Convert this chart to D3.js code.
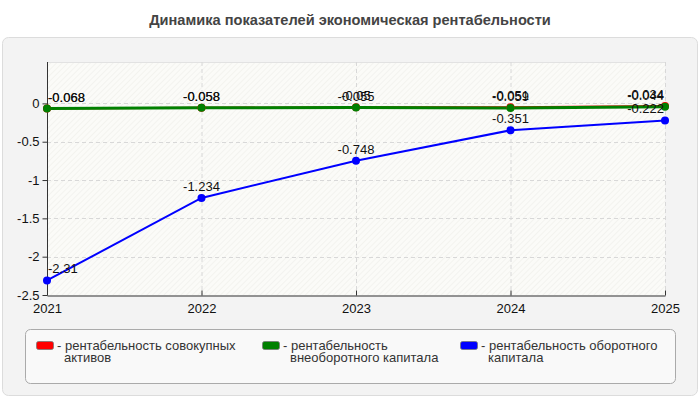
<!DOCTYPE html>
<html><head><meta charset="utf-8">
<script src="https://cdn.jsdelivr.net/npm/d3@7/dist/d3.min.js"></script>
<style>body{margin:0;background:#fff;font-family:"Liberation Sans",Arial,sans-serif}</style>
</head><body><svg id="c" width="700" height="400"></svg>
<script>
const years = ["2021","2022","2023","2024","2025"];
const seriesNames = ["рентабельность совокупных активов","рентабельность внеоборотного капитала","рентабельность оборотного капитала"];
const seriesColors = ["#ff0000","#008000","#0000ff"];
const redValues = [-0.068,-0.058,-0.05,-0.051,-0.034];
const greenValues = [-0.068,-0.058,-0.055,-0.059,-0.044];
const blueValues = [-2.31,-1.234,-0.748,-0.351,-0.222];
const yTicks = [0,-0.5,-1,-1.5,-2,-2.5];
const yTickLabels = ["0","-0.5","-1","-1.5","-2","-2.5"];
const title = "Динамика показателей экономическая рентабельности";
const legendLines = [["- рентабельность совокупных","активов"],["- рентабельность","внеоборотного капитала"],["- рентабельность оборотного","капитала"]];

const series = [redValues, greenValues, blueValues].map((v,i)=>({name:seriesNames[i],color:seriesColors[i],values:v}));

const svg = d3.select("#c");
const L=47,R=665,T=62,B=295;
svg.append("text").attr("x",350).attr("y",25).attr("text-anchor","middle")
  .attr("font-size",14.6).attr("font-weight","bold").attr("fill","#444").text(title);
svg.append("rect").attr("x",2.5).attr("y",37.5).attr("width",695).attr("height",358).attr("rx",6)
  .attr("fill","#f3f3f3").attr("stroke","#dcdcdc");

const defs = svg.append("defs");
const pat = defs.append("pattern").attr("id","hatch").attr("patternUnits","userSpaceOnUse").attr("width",4).attr("height",4)
  .attr("patternTransform","rotate(45)");
pat.append("rect").attr("width",4).attr("height",4).attr("fill","#fbfbf8");
pat.append("line").attr("x1",0).attr("y1",0).attr("x2",0).attr("y2",4).attr("stroke","#eeeeea").attr("stroke-width",1.2);

const x = d3.scalePoint().domain(years).range([L,R]);
const y = d3.scaleLinear().domain([-2.5,0.54]).range([B,T]);

svg.append("rect").attr("x",L).attr("y",T).attr("width",R-L).attr("height",B-T).attr("fill","url(#hatch)");
svg.append("line").attr("x1",L).attr("x2",R).attr("y1",T+0.5).attr("y2",T+0.5).attr("stroke","#e2e2e2");
// grid
svg.append("g").selectAll("line").data(years.slice(1)).join("line")
  .attr("x1",d=>x(d)+0.5).attr("x2",d=>x(d)+0.5).attr("y1",T).attr("y2",B)
  .attr("stroke","#d8d8d8").attr("stroke-dasharray","4,3");
svg.append("g").selectAll("line").data(yTicks.slice(0,-1)).join("line")
  .attr("x1",L).attr("x2",R).attr("y1",d=>Math.round(y(d))+0.5).attr("y2",d=>Math.round(y(d))+0.5)
  .attr("stroke","#d8d8d8").attr("stroke-dasharray","4,3");

// axes
const ya = svg.append("g").attr("transform",`translate(${L+0.5},0)`)
  .call(d3.axisLeft(y).tickValues(yTicks).tickFormat((d,i)=>yTickLabels[i]).tickSize(5).tickSizeOuter(0));
ya.select(".domain").attr("stroke","#333").attr("d",`M0,${T}V${B}`);
ya.selectAll("text").attr("font-size",13).attr("font-family","Liberation Sans, Arial, sans-serif").attr("fill","#111").attr("x",-8);
ya.selectAll("line").attr("stroke","#333");
const xa = svg.append("g").attr("transform",`translate(0,${B+0.5})`)
  .call(d3.axisBottom(x).tickSize(5).tickSizeOuter(0));
xa.select(".domain").attr("stroke","#333");
xa.selectAll("line").attr("stroke","#333").attr("y1",-5).attr("y2",0);
xa.selectAll("text").attr("font-size",13).attr("font-family","Liberation Sans, Arial, sans-serif").attr("fill","#111").attr("y",8);

const line = d3.line().x((d,i)=>x(years[i])).y(d=>y(d));
const widths=[2,3,2];
series.forEach((s,si)=>{
  svg.append("path").datum(s.values).attr("d",line).attr("fill","none").attr("stroke",s.color).attr("stroke-width",widths[si]);
});
series.forEach((s,si)=>{
  svg.append("g").selectAll("circle").data(s.values).join("circle")
    .attr("cx",(d,i)=>x(years[i])).attr("cy",d=>y(d)).attr("r",4).attr("fill",s.color);
});
series.forEach((s,si)=>{
  svg.append("g").selectAll("text").data(s.values).join("text")
    .attr("font-size",13).attr("fill","#111")
    .text(d=>String(d))
    .each(function(d,i){
      const w=this.getComputedTextLength();
      let cx=x(years[i])-w/2;
      cx=Math.max(L+1,Math.min(R-1-w,cx));
      d3.select(this).attr("x",cx).attr("y",y(d)-7);
    });
});

// legend
svg.append("rect").attr("x",25.5).attr("y",329.5).attr("width",650).attr("height",54).attr("rx",5)
  .attr("fill","#f9f9f9").attr("stroke","#aaa");
const lx=[36,262,460];
series.forEach((s,i)=>{
  const g=svg.append("g").attr("transform",`translate(${lx[i]},0)`);
  g.append("rect").attr("x",0.5).attr("y",341.5).attr("width",17).attr("height",8).attr("rx",2)
    .attr("fill",s.color).attr("stroke","#777").attr("stroke-width",0.8);
  legendLines[i].forEach((t,j)=>{
    g.append("text").attr("x",j===0?21:28).attr("y",350+j*12).attr("font-size",13).attr("fill","#333").text(t);
  });
});
</script></body></html>
